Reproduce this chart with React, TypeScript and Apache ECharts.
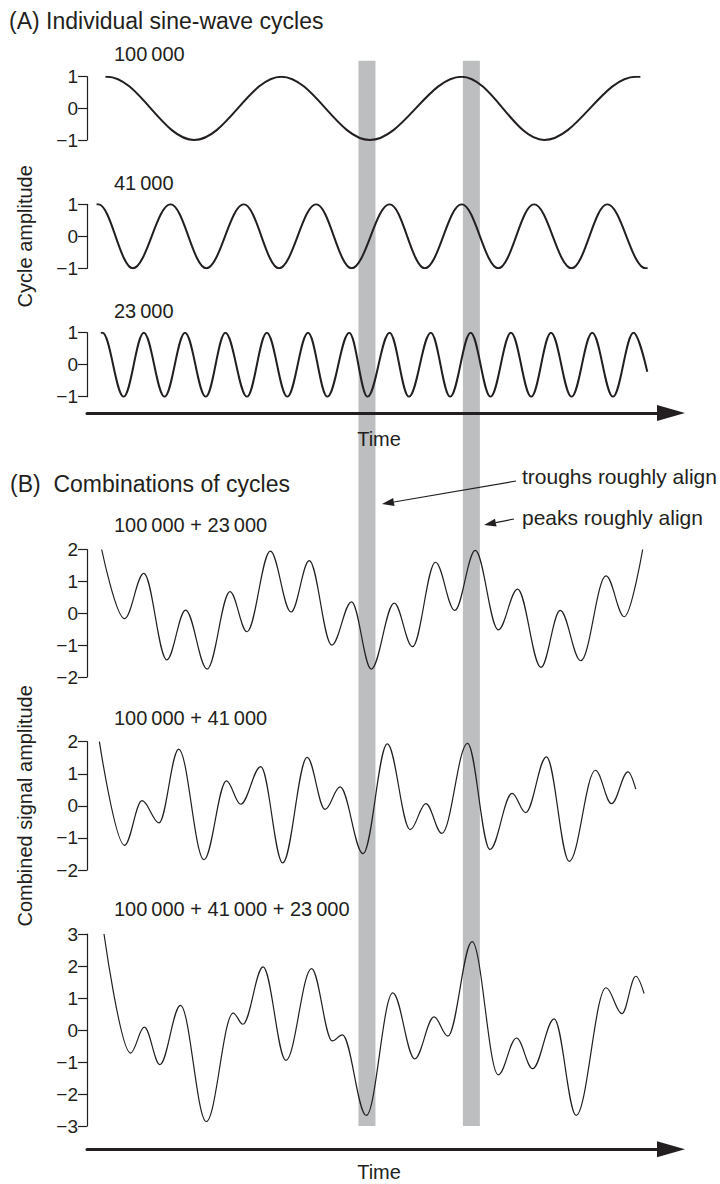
import React, { useEffect, useRef } from "react";
import * as echarts from "echarts";

const FONT = '"Liberation Sans", Arial, Helvetica, sans-serif';
const INK = "#231f20";
const BAND = "#bcbec0";

// Time axis (kyr-like units)
const timeMin = 0;
const timeMax = 330;

// Extrema: time of each peak / trough and its amplitude
const cycle100T = [10.4, 11.4, 60.6, 109.8, 159.8, 211.7, 258.3, 310.1, 312.7];
const cycle100Y = [1, 1, -1, 1, -1, 1, -1, 1, 1];

const cycle41T = [5.4, 6.4, 25.9, 47.2, 67.4, 88.6, 108.5, 129.5, 149.5, 171.0, 190.9, 211.7, 232.4, 252.6, 273.8, 294.0, 315.6, 316.8];
const cycle41Y = [1, 1, -1, 1, -1, 1, -1, 1, -1, 1, -1, 1, -1, 1, -1, 1, -1, -1];

const cycle23T = [7.8, 8.8, 20.7, 32.1, 43.8, 55.4, 67.1, 78.2, 90.4, 101.6, 113.2, 124.9, 135.8, 148.2, 158.5, 171.0, 181.9, 194.3, 205.2, 216.8, 228.0, 239.6, 251.0, 262.2, 273.8, 285.5, 297.2, 308.8, 316.6];
const cycle23Y = [1, 1, -1, 1, -1, 1, -1, 1, -1, 1, -1, 1, -1, 1, -1, 1, -1, 1, -1, 1, -1, 1, -1, 1, -1, 1, -1, 1, -0.22];

const sum100_23T = [8.3, 21.2, 32.1, 45.1, 55.7, 67.9, 80.8, 90.4, 103.6, 115.3, 125.6, 138.3, 149.5, 160.6, 173.6, 183.9, 196.9, 207.8, 219.4, 232.4, 243.3, 256.5, 267.4, 279.0, 293.3, 303.6, 314.0];
const sum100_23Y = [2.0, -0.17, 1.25, -1.46, 0.1, -1.75, 0.68, -0.58, 1.95, 0.04, 1.65, -1.0, 0.36, -1.75, 0.32, -1.05, 1.6, 0.09, 1.97, -0.52, 0.76, -1.7, 0.09, -1.49, 1.17, -0.11, 2.0];

const sum100_41T = [7.0, 21.2, 31.1, 40.7, 51.8, 66.1, 78.8, 86.8, 98.2, 110.6, 124.4, 134.5, 143.0, 156.0, 169.7, 182.6, 191.5, 200.5, 215.0, 227.7, 240.2, 247.9, 259.6, 272.5, 287.3, 296.4, 305.7, 310.1];
const sum100_41Y = [2.0, -1.23, 0.16, -0.53, 1.77, -1.68, 0.78, 0.05, 1.22, -1.78, 1.51, -0.11, 0.59, -1.49, 1.93, -0.74, 0.07, -0.86, 1.95, -1.36, 0.39, -0.21, 1.53, -1.73, 1.11, 0.07, 1.06, 0.52];

const sumAllT = [9.6, 24.6, 32.4, 41.2, 52.8, 67.4, 82.6, 88.1, 99.5, 112.4, 126.9, 138.6, 144.3, 157.8, 172.8, 185.2, 196.1, 203.9, 217.6, 232.4, 242.7, 251.8, 264.0, 276.4, 293.3, 302.3, 310.1, 314.8];
const sumAllY = [3.0, -0.72, 0.09, -1.08, 0.77, -2.86, 0.53, 0.18, 1.97, -0.95, 1.92, -0.34, -0.15, -2.67, 1.16, -0.9, 0.41, -0.19, 2.76, -1.4, -0.25, -1.21, 0.35, -2.67, 1.32, 0.51, 1.68, 1.14];

// Shaded alignment bands (time ranges)
const bandStart = [153.4, 212.4];
const bandEnd = [163.0, 222.0];

const panelLabels = [
  "100\u2009000",
  "41\u2009000",
  "23\u2009000",
  "100\u2009000 + 23\u2009000",
  "100\u2009000 + 41\u2009000",
  "100\u2009000 + 41\u2009000 + 23\u2009000",
];

const zip = (t: number[], y: number[]) => t.map((v, i) => [v, y[i]]);

const panels = [
  { t: cycle100T, y: cycle100Y, min: -1, max: 1, top: 76.7, height: 63.3, lw: 2, labelY: 54 },
  { t: cycle41T, y: cycle41Y, min: -1, max: 1, top: 204.3, height: 64, lw: 2, labelY: 182.5 },
  { t: cycle23T, y: cycle23Y, min: -1, max: 1, top: 332.7, height: 64, lw: 2, labelY: 310.5 },
  { t: sum100_23T, y: sum100_23Y, min: -2, max: 2, top: 549.5, height: 127.5, lw: 1.2, labelY: 525 },
  { t: sum100_41T, y: sum100_41Y, min: -2, max: 2, top: 741.7, height: 128.3, lw: 1.2, labelY: 717.5 },
  { t: sumAllT, y: sumAllY, min: -3, max: 3, top: 934, height: 192, lw: 1.2, labelY: 909 },
];

function arrow(x0: number, y0: number, x1: number, y1: number) {
  const dx = x1 - x0;
  const dy = y1 - y0;
  const L = Math.sqrt(dx * dx + dy * dy);
  const ux = dx / L;
  const uy = dy / L;
  const len = 12;
  const half = 4;
  const bx = x1 - ux * len;
  const by = y1 - uy * len;
  return [
    {
      type: "line",
      shape: { x1: x0, y1: y0, x2: bx, y2: by },
      style: { stroke: INK, lineWidth: 1.2 },
      z: 10,
    },
    {
      type: "polygon",
      shape: {
        points: [
          [x1, y1],
          [bx - uy * half, by + ux * half],
          [bx + uy * half, by - ux * half],
        ],
      },
      style: { fill: INK },
      z: 10,
    },
  ];
}

export default function App() {
  const ref = useRef<HTMLDivElement>(null);

  useEffect(() => {
    document.body.style.margin = "0";
    if (!ref.current) return;
    const chart = echarts.init(ref.current, null, { renderer: "svg" });

    const fmt = (v: number) => (v < 0 ? "\u2212" + Math.abs(v) : String(v));

    const option: any = {
      animation: false,
      backgroundColor: "#ffffff",
      textStyle: { fontFamily: FONT, color: INK },
      grid: panels.map((p) => ({
        left: 87,
        right: 49,
        top: p.top,
        height: p.height,
        containLabel: false,
        outerBoundsMode: "none",
      })),
      xAxis: panels.map((p, i) => {
        const shown = i === 2 || i === 5;
        return {
          gridIndex: i,
          type: "value",
          min: timeMin,
          max: timeMax,
          show: shown,
          offset: i === 2 ? 16.3 : 23.3,
          axisLine: {
            show: shown,
            onZero: false,
            symbol: ["none", "triangle"],
            symbolSize: [16, 28],
            lineStyle: { color: INK, width: 3 },
          },
          axisTick: { show: false },
          axisLabel: { show: false },
          splitLine: { show: false },
          name: shown ? "Time" : "",
          nameLocation: "middle",
          nameGap: i === 2 ? 16 : 13,
          nameTextStyle: { fontFamily: FONT, fontSize: 20, color: INK, lineHeight: 20 },
        };
      }),
      yAxis: panels.map((p, i) => ({
        gridIndex: i,
        type: "value",
        min: p.min,
        max: p.max,
        interval: 1,
        axisLine: { show: true, lineStyle: { color: INK, width: 1.2 } },
        axisTick: { show: true, length: 9, lineStyle: { color: INK, width: 1.2 } },
        axisLabel: { fontFamily: FONT, fontSize: 19, color: INK, margin: 9, formatter: fmt },
        splitLine: { show: false },
        name: i === 1 ? "Cycle amplitude" : i === 4 ? "Combined signal amplitude" : "",
        nameLocation: "middle",
        nameRotate: 90,
        nameGap: 52,
        nameTextStyle: { fontFamily: FONT, fontSize: 20, color: INK },
      })),
      series: panels.map((p, i) => ({
        type: "line",
        xAxisIndex: i,
        yAxisIndex: i,
        data: zip(p.t, p.y),
        symbol: "none",
        showSymbol: false,
        smooth: 0.36,
        smoothMonotone: "x",
        lineStyle: { color: INK, width: p.lw },
        silent: true,
        z: 3,
      })),
    };

    chart.setOption(option);

    const bandTop = (chart.convertToPixel({ yAxisIndex: 0 } as any, 1) as number) - 16;
    const bandBottom = chart.convertToPixel({ yAxisIndex: 5 } as any, -3) as number;
    const bands = bandStart.map((s, k) => {
      const x0 = chart.convertToPixel({ xAxisIndex: 0 } as any, s) as number;
      const x1 = chart.convertToPixel({ xAxisIndex: 0 } as any, bandEnd[k]) as number;
      return {
        type: "rect",
        shape: { x: x0, y: bandTop, width: x1 - x0, height: bandBottom - bandTop },
        style: { fill: BAND },
        z: -1,
        silent: true,
      };
    });

    const texts: any[] = [
      {
        type: "text",
        x: 9,
        y: 21,
        style: { text: "(A) Individual sine-wave cycles", font: `23px ${FONT}`, fill: INK, verticalAlign: "middle" },
        z: 10,
      },
      {
        type: "text",
        x: 10,
        y: 484,
        style: { text: "(B)  Combinations of cycles", font: `23px ${FONT}`, fill: INK, verticalAlign: "middle" },
        z: 10,
      },
      {
        type: "text",
        x: 522,
        y: 476,
        style: { text: "troughs roughly align", font: `21px ${FONT}`, fill: INK, verticalAlign: "middle" },
        z: 10,
      },
      {
        type: "text",
        x: 522,
        y: 517,
        style: { text: "peaks roughly align", font: `21px ${FONT}`, fill: INK, verticalAlign: "middle" },
        z: 10,
      },
      ...panels.map((p, i) => ({
        type: "text",
        x: 114,
        y: p.labelY,
        style: { text: panelLabels[i], font: `20px ${FONT}`, fill: INK, verticalAlign: "middle" },
        z: 10,
      })),
      ...arrow(516, 481, 382, 504),
      ...arrow(514, 519, 484, 525),
    ];

    chart.setOption({ graphic: [...bands, ...texts] });

    return () => chart.dispose();
  }, []);

  return <div ref={ref} style={{ width: 720, height: 1184 }} />;
}
